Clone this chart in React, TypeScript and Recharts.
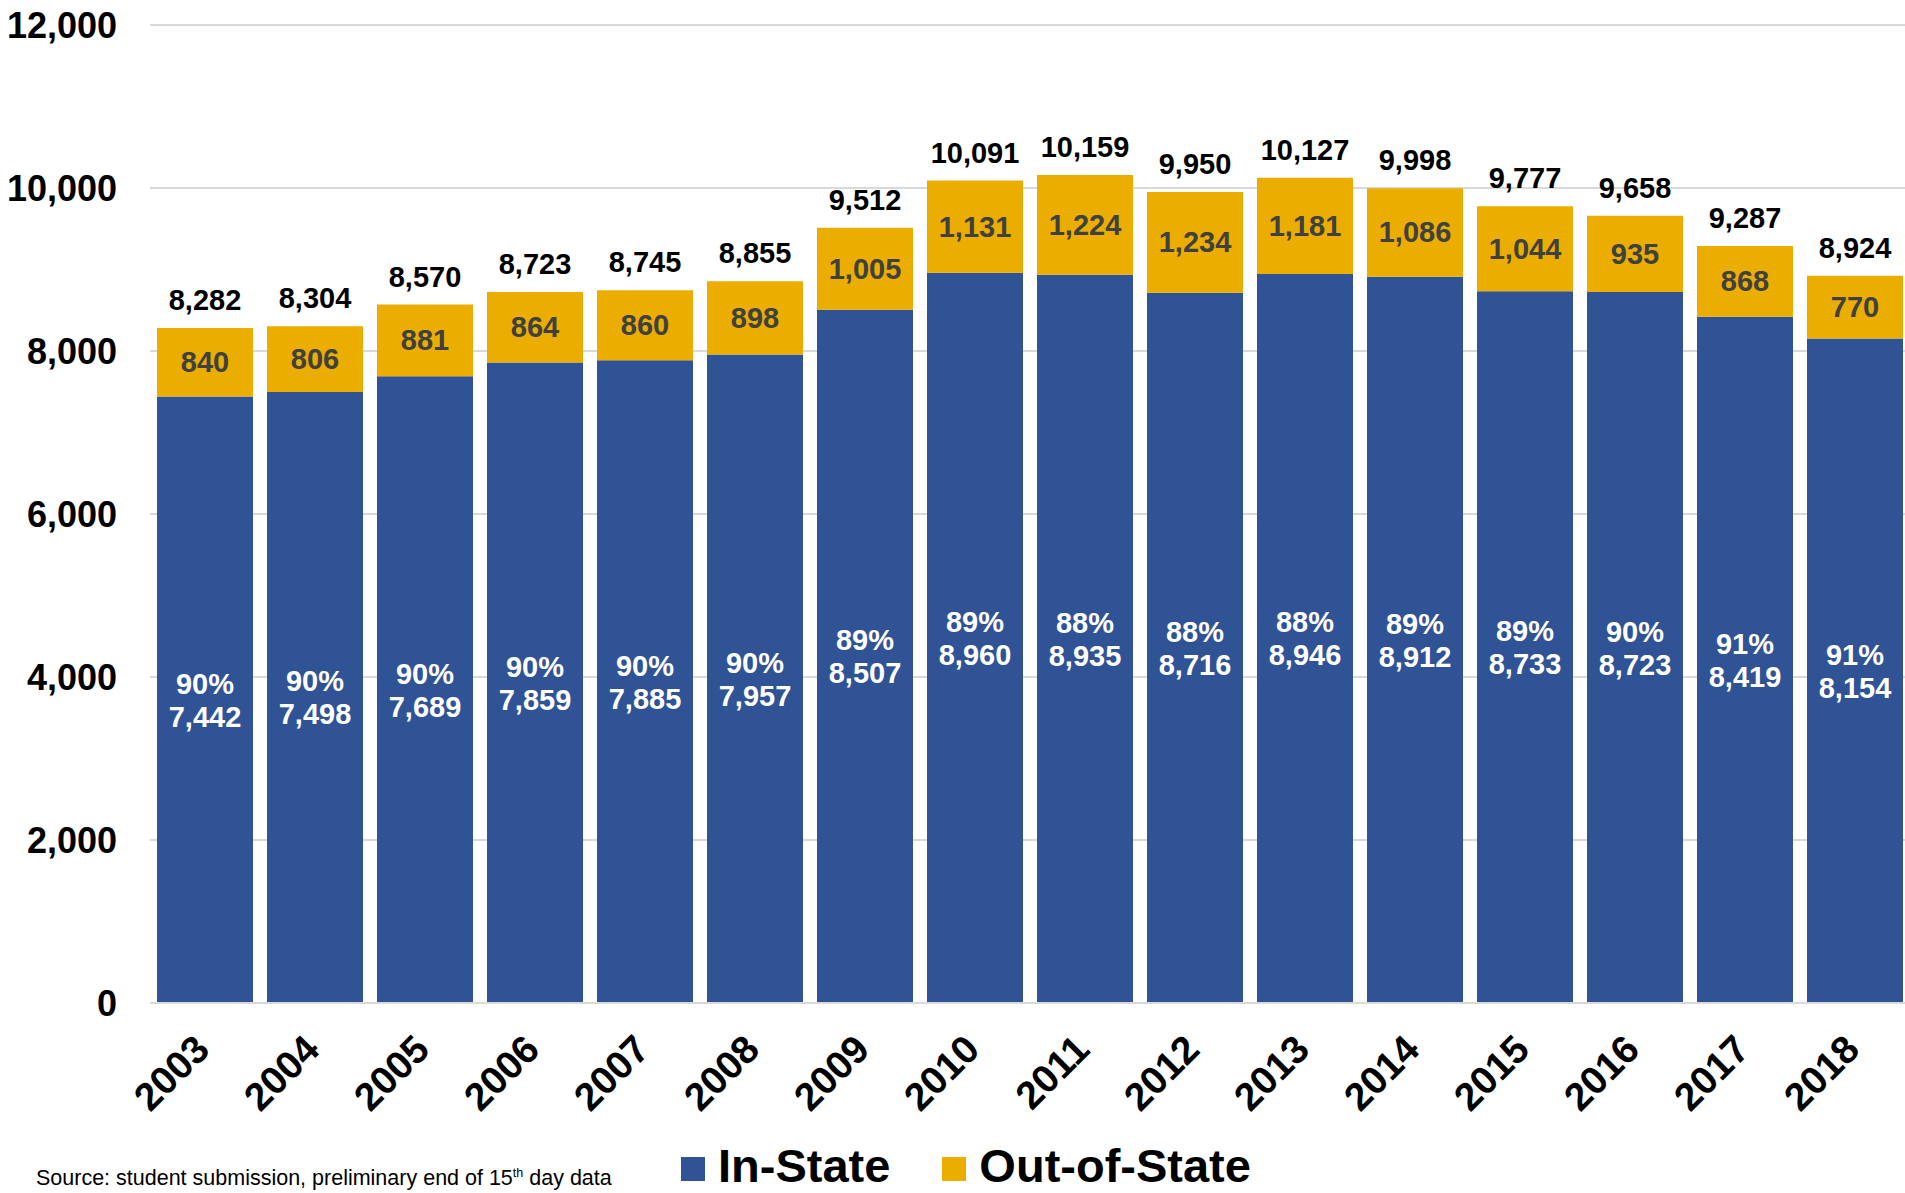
import React from 'react';
import { BarChart, Bar, XAxis, YAxis, CartesianGrid, LabelList, Legend } from 'recharts';

const years = ['2003', '2004', '2005', '2006', '2007', '2008', '2009', '2010', '2011', '2012', '2013', '2014', '2015', '2016', '2017', '2018'];
const inState = [7442, 7498, 7689, 7859, 7885, 7957, 8507, 8960, 8935, 8716, 8946, 8912, 8733, 8723, 8419, 8154];
const outOfState = [840, 806, 881, 864, 860, 898, 1005, 1131, 1224, 1234, 1181, 1086, 1044, 935, 868, 770];
const totals = [8282, 8304, 8570, 8723, 8745, 8855, 9512, 10091, 10159, 9950, 10127, 9998, 9777, 9658, 9287, 8924];
const inStatePct = [90, 90, 90, 90, 90, 90, 89, 89, 88, 88, 88, 89, 89, 90, 91, 91];
const yTicks = [0, 2000, 4000, 6000, 8000, 10000, 12000];

const data = years.map((year, i) => ({
  year,
  inState: inState[i],
  outOfState: outOfState[i],
  total: totals[i],
  pct: inStatePct[i],
}));

const BLUE = '#2F5395';
const GOLD = '#EAAD00';
const FONT = '"Liberation Sans", Arial, sans-serif';

const fmt = (v: number) => String(v).replace(/\B(?=(\d{3})+(?!\d))/g, ',');

const XTick = (props: any) => {
  const { x, y, payload } = props;
  return (
    <g transform={`translate(${x - 13},${y})`}>
      <text textAnchor="end" transform="rotate(-45)" dy={27.7} fontFamily={FONT} fontSize={39} fontWeight="bold" fill="#000">
        {payload.value}
      </text>
    </g>
  );
};

const InLabel = (props: any) => {
  const { x, y, width, height, index } = props;
  const cx = x + width / 2;
  const cy = y + height / 2;
  return (
    <text textAnchor="middle" fill="#FFFFFF" fontFamily={FONT} fontSize={29} fontWeight="bold">
      <tspan x={cx} y={cy - 6}>{`${inStatePct[index]}%`}</tspan>
      <tspan x={cx} y={cy + 27}>{fmt(inState[index])}</tspan>
    </text>
  );
};

const OutLabel = (props: any) => {
  const { x, y, width, height, index } = props;
  return (
    <text x={x + width / 2} y={y + height / 2 + 10} textAnchor="middle" fill="#404040" fontFamily={FONT} fontSize={29} fontWeight="bold">
      {fmt(outOfState[index])}
    </text>
  );
};

const TotalLabel = (props: any) => {
  const { x, y, width, index } = props;
  return (
    <text x={x + width / 2} y={y - 18} textAnchor="middle" fill="#000" fontFamily={FONT} fontSize={29} fontWeight="bold">
      {fmt(totals[index])}
    </text>
  );
};

const LegendContent = () => (
  <div style={{ display: 'flex', alignItems: 'flex-start', fontFamily: FONT, fontWeight: 'bold', fontSize: 47, lineHeight: '40px', height: 40, color: '#000', whiteSpace: 'nowrap' }}>
    <span style={{ width: 24, height: 24, background: BLUE, marginTop: 11, marginRight: 13, display: 'inline-block' }} />
    <span>In-State</span>
    <span style={{ width: 24, height: 24, background: GOLD, marginTop: 11, marginLeft: 52, marginRight: 13, display: 'inline-block' }} />
    <span>Out-of-State</span>
  </div>
);

export default function App() {
  return (
    <div style={{ position: 'absolute', left: 0, top: 0, width: 1905, height: 1193, overflow: 'hidden', background: '#fff' }}>
      <BarChart width={1910} height={1193} data={data} margin={{ top: 25, right: 0, bottom: 0, left: 0 }} barSize={96}>
        <CartesianGrid vertical={false} stroke="#D9D9D9" strokeWidth={2} />
        <XAxis
          dataKey="year"
          height={190}
          tickLine={false}
          tickSize={6}
          tickMargin={23}
          axisLine={{ stroke: '#D9D9D9', strokeWidth: 2 }}
          tick={<XTick />}
          interval={0}
        />
        <YAxis
          width={150}
          domain={[0, 12000]}
          ticks={yTicks}
          tickFormatter={fmt}
          axisLine={false}
          tickLine={false}
          tickSize={0}
          tickMargin={33}
          tick={{ fontFamily: FONT, fontSize: 36, fontWeight: 'bold', fill: '#000' }}
        />
        <Legend layout="horizontal" verticalAlign="middle" align="center" wrapperStyle={{ left: 681, top: 1146, width: 'auto', height: 'auto' }} content={<LegendContent />} />
        <Bar dataKey="inState" name="In-State" stackId="a" fill={BLUE} isAnimationActive={false}>
          <LabelList dataKey="inState" content={<InLabel />} />
        </Bar>
        <Bar dataKey="outOfState" name="Out-of-State" stackId="a" fill={GOLD} isAnimationActive={false}>
          <LabelList dataKey="outOfState" content={<OutLabel />} />
          <LabelList dataKey="total" content={<TotalLabel />} />
        </Bar>
      </BarChart>
      <div style={{ position: 'absolute', left: 36, top: 1168, fontFamily: FONT, fontSize: 21.5, lineHeight: '21.5px', color: '#000', whiteSpace: 'nowrap' }}>
        Source: student submission, preliminary end of 15
        <span style={{ fontSize: 12.5, position: 'relative', top: -8 }}>th</span> day data
      </div>
    </div>
  );
}
